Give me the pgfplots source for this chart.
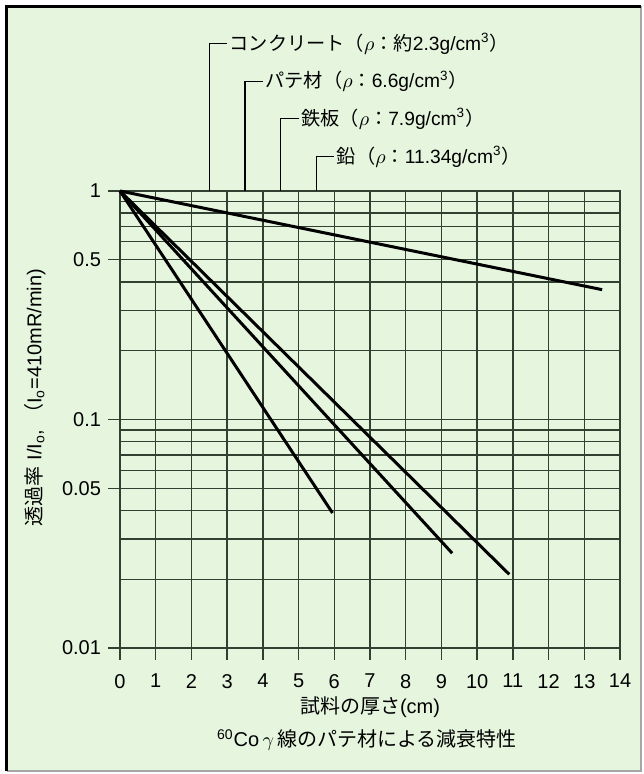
\documentclass[border=0pt]{standalone}
\usepackage{fontspec}
\setmainfont{Liberation Sans}
\newfontfamily\jp{Noto Sans CJK JP}
\usepackage{pgfplots}
\pgfplotsset{compat=1.18}
\definecolor{bg}{RGB}{229,245,222}
\definecolor{gridc}{RGB}{50,64,50}

%透過率の直線（始点と終点）
\pgfplotstableread{
x y
0 1
13.5 0.37
}\concrete
\pgfplotstableread{
x y
0 1
10.9 0.021
}\pate
\pgfplotstableread{
x y
0 1
9.3 0.026
}\iron
\pgfplotstableread{
x y
0 1
5.95 0.039
}\lead

\begin{document}
\begin{tikzpicture}
\begin{scope}[x=0.5pt,y=-0.5pt]
  \fill[white] (0,0) rectangle (643,774);
  \fill[bg] (5,5) rectangle (641,771);
  \draw[gray!70, line width=0.8pt] (6.5,771) -- (641,771) -- (641,6.5);
  \draw[black, line width=1.6pt] (6.5,771) -- (6.5,6.5) -- (641,6.5);
\end{scope}
\begin{axis}[
    at={(60pt,-324pt)}, anchor=south west,
    scale only axis, width=250pt, height=228.5pt,
    ymode=log,
    xmin=0, xmax=14, ymin=0.01, ymax=1,
    xtick={0,...,14},
    ytick={0.01,0.05,0.1,0.5,1},
    yticklabels={0.01,0.05,0.1,0.5,1},
    minor ytick={0.02,0.03,0.04,0.06,0.07,0.08,0.09,0.2,0.3,0.4,0.6,0.7,0.8,0.9},
    grid=both,
    major grid style={gridc, line width=0.7pt},
    minor grid style={gridc, line width=0.7pt},
    axis line style={gridc, line width=0.7pt},
    major tick style={gridc, line width=0.7pt},
    major tick length=6pt, minor tick length=0pt,
    tick align=outside, tick pos=left,
    clip=false,
    /pgf/number format/assume math mode=true,
    ticklabel style={font=\fontsize{10}{12}\selectfont},
    xticklabel style={yshift=-3.5pt},
    xlabel={{\jp 試料の厚さ}(cm)},
    xlabel style={at={(axis description cs:0.5,0)}, anchor=center, yshift=-29.5pt,
                  font=\fontsize{10}{12}\selectfont},
]
\addplot[black, line width=1.5pt] table {\concrete};
\addplot[black, line width=1.5pt] table {\pate};
\addplot[black, line width=1.5pt] table {\iron};
\addplot[black, line width=1.5pt] table {\lead};

% 引き出し線とラベル
\draw[black, line width=0.6pt] (axis cs:2.5,1) |- (axis cs:3.0,4.41)
  node[right, inner sep=1pt, font=\fontsize{9.6}{11}\selectfont]
  {{\jp コンクリート（}$\rho${\jp ：約}2.3g/cm\textsuperscript{3}{\jp ）}};
\draw[black, line width=0.6pt] (axis cs:3.5,1) |- (axis cs:4.0,3.01)
  node[right, inner sep=1pt, font=\fontsize{9.6}{11}\selectfont]
  {{\jp パテ材（}$\rho${\jp ：}6.6g/cm\textsuperscript{3}{\jp ）}};
\draw[black, line width=0.6pt] (axis cs:4.5,1) |- (axis cs:5.0,2.07)
  node[right, inner sep=1pt, font=\fontsize{9.6}{11}\selectfont]
  {{\jp 鉄板（}$\rho${\jp ：}7.9g/cm\textsuperscript{3}{\jp ）}};
\draw[black, line width=0.6pt] (axis cs:5.5,1) |- (axis cs:6.0,1.41)
  node[right, inner sep=1pt, font=\fontsize{9.6}{11}\selectfont]
  {{\jp 鉛（}$\rho${\jp ：}11.34g/cm\textsuperscript{3}{\jp ）}};

\node[rotate=90, font=\fontsize{10}{12}\selectfont]
  at ([xshift=-42.5pt,yshift=11pt]rel axis cs:0,0.5)
  {{\jp 透過率} I/I\textsubscript{o}, {\jp （}I\textsubscript{o}=410mR/min)};
\node[font=\fontsize{10}{12}\selectfont]
  at ([xshift=-1.5pt,yshift=-46pt]rel axis cs:0.5,0)
  {\textsuperscript{60}Co\,$\gamma$\,{\jp 線のパテ材による減衰特性}};
\end{axis}
\end{tikzpicture}
\end{document}
